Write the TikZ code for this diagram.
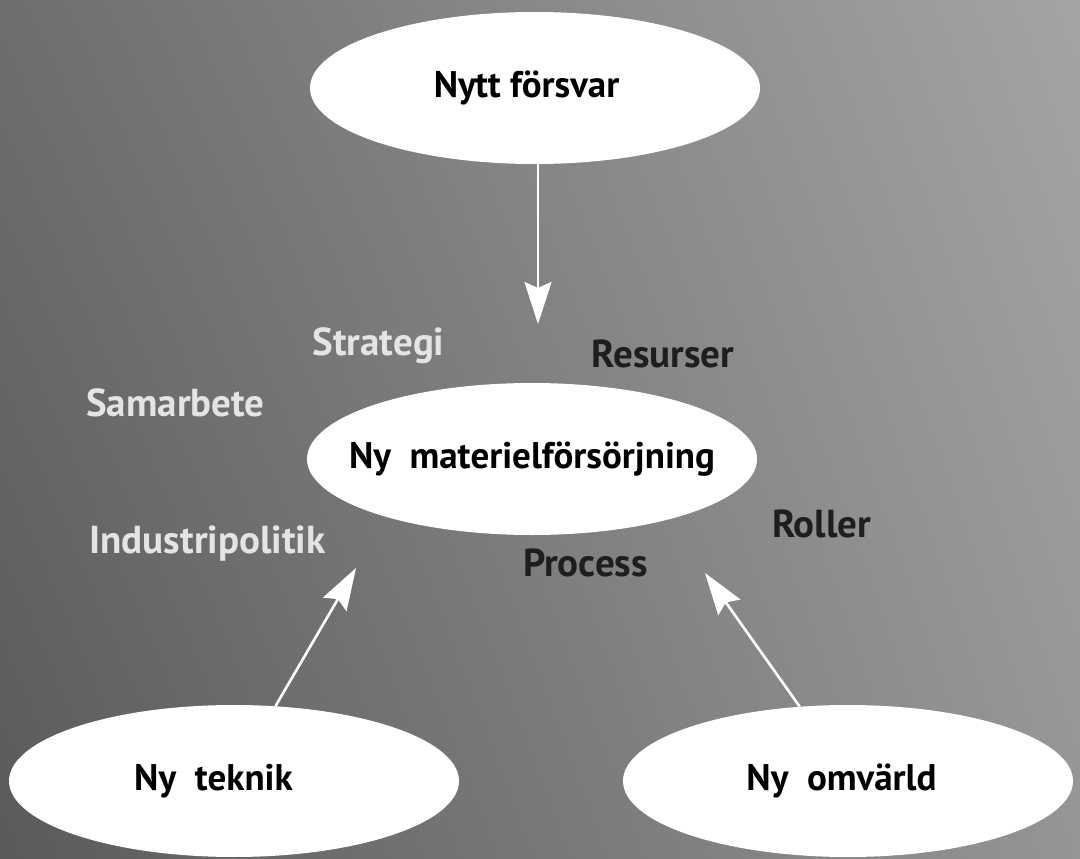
\documentclass[tikz,border=0pt]{standalone}
\usepackage{fontspec}
\setmainfont{PT Sans}
\usetikzlibrary{shapes.geometric,arrows.meta,shadings}
\definecolor{lightlab}{HTML}{E4E4E4}
\definecolor{darklab}{HTML}{1E1E1E}
\definecolor{bgUL}{HTML}{6E6E6E}
\definecolor{bgUR}{HTML}{A4A4A4}
\definecolor{bgLL}{HTML}{5A5A5A}
\definecolor{bgLR}{HTML}{959595}
\newcommand\offtext[2]{\makebox[0pt]{\kern#1\relax #2\kern-#1\relax}}
\begin{document}
\begin{tikzpicture}[x=1pt,y=-1pt,
  oval/.style={ellipse, fill=white, draw=none, minimum width=450pt, minimum height=152pt, inner sep=0pt,
    font=\fontsize{37}{41}\selectfont\bfseries, text=black},
  lab/.style={anchor=base, inner sep=0pt, font=\fontsize{39}{43}\selectfont\bfseries},
  light/.style={lab, text=lightlab},
  dark/.style={lab, text=darklab},
  arr/.style={draw=white, line width=2.6pt, -{Stealth[length=42pt,width=27pt,inset=6pt]}}]
\useasboundingbox (0,0) rectangle (1080,859);
\shade[upper left=bgUL, upper right=bgUR, lower left=bgLL, lower right=bgLR] (0,0) rectangle (1080,859);

\node[oval] (forsvar) at (535,88) {\offtext{-8.5pt}{Nytt försvar}};
\node[oval] (mat) at (532,459) {\offtext{0pt}{Ny\hspace{0.25em} materielförsörjning}};
\node[oval] (teknik) at (234,781) {\offtext{-20.5pt}{Ny\hspace{0.25em} teknik}};
\node[oval] (omv) at (848,781) {\offtext{-6.5pt}{Ny\hspace{0.25em} omvärld}};

\node[light] (strategi) at (378.5,355) {Strategi};
\node[dark] (resurser) at (663,367) {Resurser};
\node[light] (samarbete) at (175.5,416) {Samarbete};
\node[light] (industri) at (207.5,553) {Industripolitik};
\node[dark] (process) at (585.5,576) {Process};
\node[dark] (roller) at (821.5,537) {Roller};

\coordinate (tA) at (538,324);
\coordinate (tB) at (356,568);
\coordinate (tC) at (705,573);
\draw[arr] (tA |- forsvar.south) -- (tA);
\draw[arr] (teknik.61) -- (tB);
\draw[arr] (omv.123) -- (tC);
\end{tikzpicture}
\end{document}
